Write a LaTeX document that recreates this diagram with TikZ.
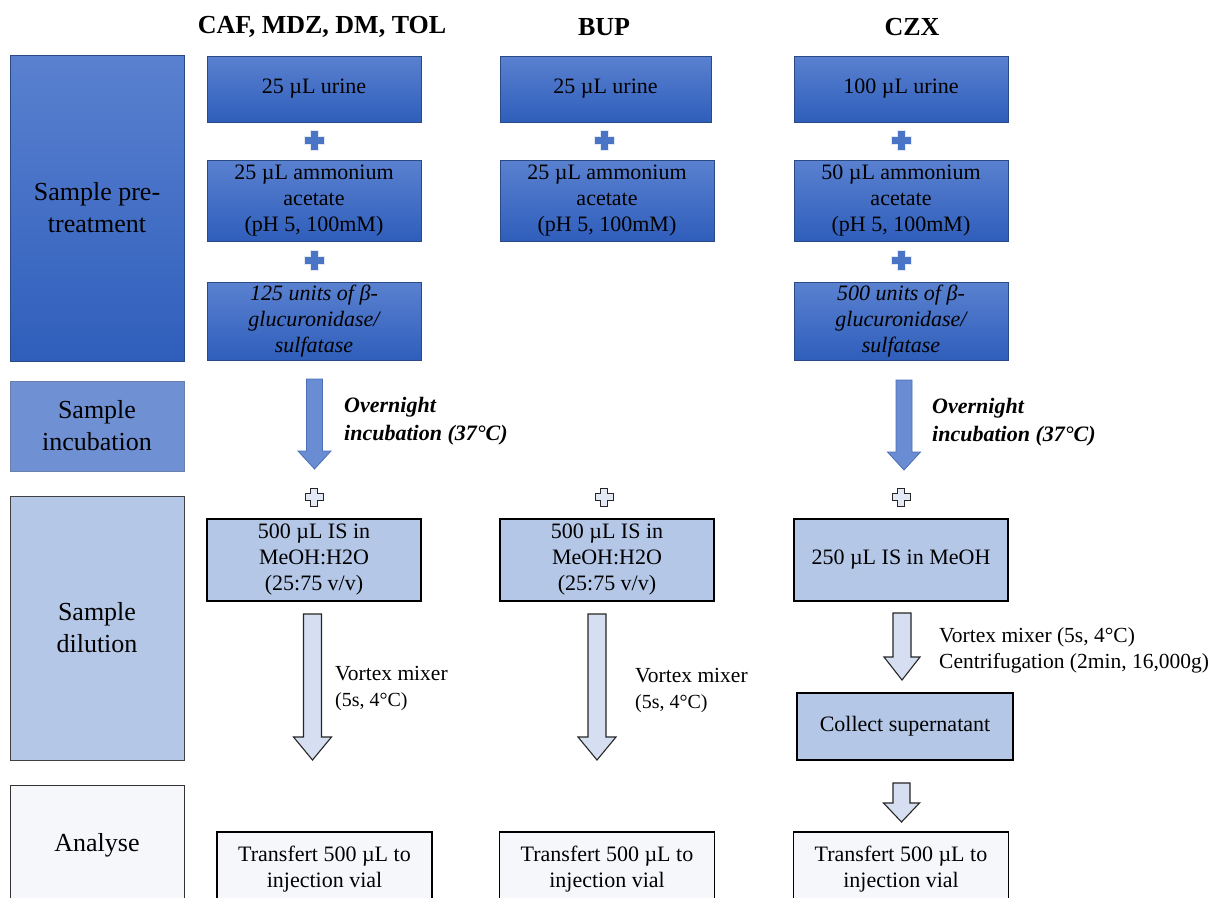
\documentclass[tikz,border=0pt]{standalone}
\usepackage{fontspec}
\setmainfont{Liberation Serif}
\usetikzlibrary{calc}
\definecolor{dkTop}{HTML}{5A81D0}
\definecolor{dkBot}{HTML}{2F5EBB}
\definecolor{dkLine}{HTML}{2A4A86}
\definecolor{incub}{HTML}{7090D4}
\definecolor{dilu}{HTML}{B4C7E7}
\definecolor{anal}{HTML}{F5F7FB}
\definecolor{arrDk}{HTML}{6A8CD2}
\definecolor{arrDkLine}{HTML}{4C6FB6}
\definecolor{arrLt}{HTML}{D5DFF1}
\definecolor{plusDk}{HTML}{4A74C6}
\definecolor{plusLt}{HTML}{E2E8F4}
\newcommand\mytxt{\fontsize{22}{26}\selectfont}
\newcommand\mycat{\fontsize{26}{32}\selectfont}
\newcommand\mysmall{\fontsize{21.5}{26}\selectfont}
\newcommand\BArrow[7]{% style, x, ytop, yhead, ytip, shaft half, head half
  \path[#1] (#2-#6,#3) -- (#2+#6,#3) -- (#2+#6,#4) -- (#2+#7,#4) -- (#2,#5)
    -- (#2-#7,#4) -- (#2-#6,#4) -- cycle;}
\newcommand\PlusSign[5]{% style, x, y, s, t
  \path[#1] (#2-#5,#3-#4) -- (#2+#5,#3-#4) -- (#2+#5,#3-#5) -- (#2+#4,#3-#5)
    -- (#2+#4,#3+#5) -- (#2+#5,#3+#5) -- (#2+#5,#3+#4) -- (#2-#5,#3+#4)
    -- (#2-#5,#3+#5) -- (#2-#4,#3+#5) -- (#2-#4,#3-#5) -- (#2-#5,#3-#5) -- cycle;}
\begin{document}
\begin{tikzpicture}[x=1pt,y=-1pt,
  every node/.style={inner sep=0pt, align=center, font=\mytxt},
  catdark/.style={draw=dkLine, line width=0.8pt, top color=dkTop, bottom color=dkBot, minimum width=174pt, font=\mycat},
  dkbox/.style={draw=dkLine, line width=0.8pt, top color=dkTop, bottom color=dkBot, minimum width=214pt},
  catinc/.style={draw=dkLine!70, line width=0.8pt, fill=incub, minimum width=174pt, font=\mycat},
  catdil/.style={draw=black!75, line width=1pt, fill=dilu, minimum width=174pt, font=\mycat},
  catana/.style={draw=black!80, line width=1pt, fill=anal, minimum width=174pt},
  isbox/.style={draw=black, line width=1.6pt, fill=dilu, minimum width=214pt, minimum height=82pt},
  trbox/.style={draw=black, line width=1.2pt, fill=anal, minimum width=215pt, minimum height=76pt},
  header/.style={font=\fontsize{26}{30}\selectfont\bfseries},
  note/.style={font=\fontsize{22}{28}\selectfont\bfseries\itshape, align=left, anchor=north west},
  vnote/.style={font=\mysmall, align=left, anchor=north west},
  darrow/.style={fill=arrDk, draw=arrDkLine, line width=0.8pt},
  larrow/.style={fill=arrLt, draw=black!85, line width=1.1pt},
  dplus/.style={fill=plusDk, draw=plusLt, line width=0.8pt},
  lplus/.style={fill=plusLt, draw=black!85, line width=1pt}]
\useasboundingbox (0,0) rectangle (1212,897);
\fill[white] (0,0) rectangle (1212,897);
\begin{scope}
\clip (0,0) rectangle (1212,897);
% headers
\node[header] (h1) at (322,27) {CAF, MDZ, DM, TOL};
\node[header] (h2) at (604,27) {BUP};
\node[header] (h3) at (912,27) {CZX};
% category boxes
\node[catdark, minimum height=306pt] (catA) at (97,208) {Sample pre-\\treatment};
\node[catinc, minimum height=90pt] (catB) at (97,426) {Sample\\incubation};
\node[catdil, minimum height=264pt] (catC) at (97,628) {Sample\\dilution};
\node[catana, minimum height=130pt] (catD) at (97,850) {};
\node[font=\mycat] (catDt) at (97,845) {Analyse};
% column 1
\node[dkbox, minimum height=66pt] (u1) at (314,89) {25 µL urine};
\node[dkbox, minimum height=81pt] (a1) at (314,200.5) {25 µL ammonium\\acetate\\(pH 5, 100mM)};
\node[dkbox, minimum height=78pt, font=\mytxt\itshape] (g1) at (314,321) {125 units of β-\\glucuronidase/\\sulfatase};
% column 2
\node[dkbox, minimum height=66pt, minimum width=211pt] (u2) at (605.5,89) {25 µL urine};
\node[dkbox, minimum height=81pt] (a2) at (607,200.5) {25 µL ammonium\\acetate\\(pH 5, 100mM)};
% column 3
\node[dkbox, minimum height=66pt] (u3) at (901,89) {100 µL urine};
\node[dkbox, minimum height=81pt] (a3) at (901,200.5) {50 µL ammonium\\acetate\\(pH 5, 100mM)};
\node[dkbox, minimum height=78pt, font=\mytxt\itshape] (g3) at (901,321) {500 units of β-\\glucuronidase/\\sulfatase};
% plus signs (pre-treatment)
\PlusSign{dplus}{314}{140}{10}{4}
\PlusSign{dplus}{314}{260}{10}{4}
\PlusSign{dplus}{604}{140}{10}{4}
\PlusSign{dplus}{901}{140}{10}{4}
\PlusSign{dplus}{901}{260}{10}{4}
% incubation arrows
\BArrow{darrow}{314.5}{379}{451}{469}{8}{16.5}
\BArrow{darrow}{904}{380}{452}{470}{8}{16.5}
\node[note] (n1) at (344,397) {Overnight\\incubation (37°C)};
\node[note] (n3) at (932,398) {Overnight\\incubation (37°C)};
% dilution plus
\PlusSign{lplus}{314}{497}{9}{3.5}
\PlusSign{lplus}{604}{497}{9}{3.5}
\PlusSign{lplus}{901}{497}{9}{3.5}
% IS boxes
\node[isbox] (i1) at (314,560) {500 µL IS in\\MeOH:H2O\\(25:75 v/v)};
\node[isbox] (i2) at (607,560) {500 µL IS in\\MeOH:H2O\\(25:75 v/v)};
\node[isbox] (i3) at (901,560) {250 µL IS in MeOH};
% dilution arrows
\BArrow{larrow}{312.5}{614}{737}{760}{9}{19}
\BArrow{larrow}{597}{614}{737}{760}{9}{19}
\BArrow{larrow}{902}{613}{657}{680}{9}{18}
\node[vnote] (v1) at (335,666) {Vortex mixer\\{\fontsize{20}{20}\selectfont (5s, 4°C)}};
\node[vnote] (v2) at (635,668) {Vortex mixer\\{\fontsize{20}{20}\selectfont (5s, 4°C)}};
\node[vnote] (v3) at (939,627) {Vortex mixer (5s, 4°C)\\Centrifugation (2min, 16,000g)};
\node[draw=black, line width=1.2pt, fill=dilu, minimum width=216pt, minimum height=67pt] (cs) at (905,726.5) {Collect supernatant};
\BArrow{larrow}{901.5}{783}{803}{822}{8.5}{18}
% transfer boxes
\node[trbox] (t1) at (324.5,870) {};
\node[trbox] (t2) at (607,870) {};
\node[trbox] (t3) at (901,870) {};
\node (t1t) at (324.5,869) {Transfert 500 µL to\\injection vial};
\node (t2t) at (607,869) {Transfert 500 µL to\\injection vial};
\node (t3t) at (901,869) {Transfert 500 µL to\\injection vial};
\end{scope}
\end{tikzpicture}
\end{document}
